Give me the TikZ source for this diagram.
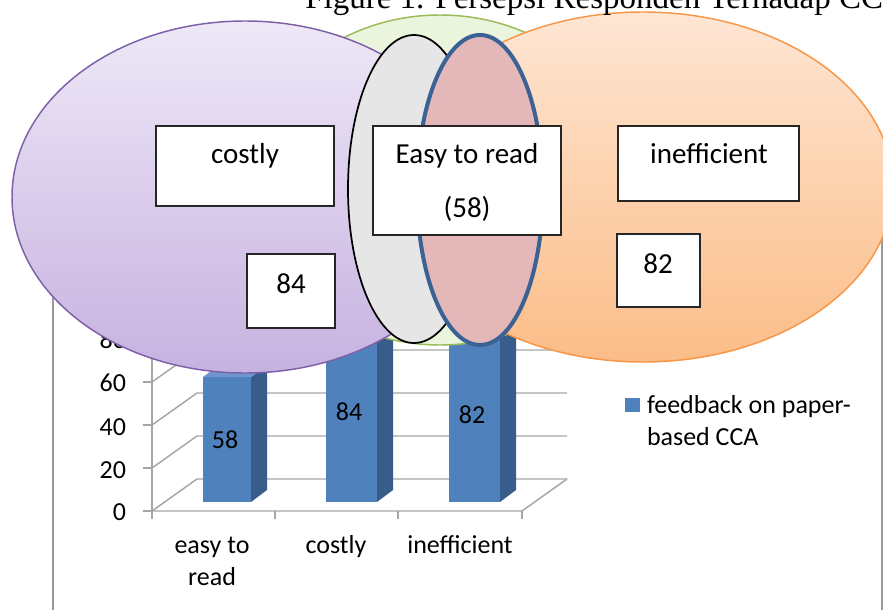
\documentclass[tikz,border=0pt]{standalone}
\usepackage{fontspec}
\setmainfont{Carlito}
\newfontfamily\titlefont{Liberation Serif}
\definecolor{barfront}{HTML}{4F81BD}
\definecolor{barside}{HTML}{385D8A}
\definecolor{bartop}{HTML}{6F97CC}
\definecolor{gridgray}{HTML}{A6A6A6}
\definecolor{framegray}{HTML}{9A9A9A}
\definecolor{greenfill}{HTML}{EBF5DE}
\definecolor{greenline}{HTML}{9BBB59}
\definecolor{purptop}{HTML}{EEE8F7}
\definecolor{purpbot}{HTML}{C6B2E0}
\definecolor{purpline}{HTML}{7E60A8}
\definecolor{orgtop}{HTML}{FEE6D4}
\definecolor{orgbot}{HTML}{FBBD88}
\definecolor{orgline}{HTML}{F79646}
\definecolor{stonefill}{HTML}{E6E6E6}
\definecolor{rosefill}{HTML}{E4B7B8}
\definecolor{roseline}{HTML}{3B6294}
\newcommand\chartsize{\fontsize{19.5}{23}\selectfont}
\newcommand\boxsize{\fontsize{21.75}{26}\selectfont}
\begin{document}
\begin{tikzpicture}[x=0.75pt,y=-0.75pt,
  gridline/.style={draw=gridgray, line width=1.1pt},
  framestroke/.style={draw=framegray, line width=1.2pt},
  lbl/.style={inner sep=0pt, outer sep=0pt, font=\chartsize},
  boxtxt/.style={inner sep=0pt, outer sep=0pt, font=\boxsize, anchor=base},
  labelbox/.style={draw=black!85, line width=0.8pt, fill=white, inner sep=0pt, outer sep=0pt},
  barfrontface/.style={fill=barfront},
  barsideface/.style={fill=barside},
  bartopface/.style={fill=bartop}
]
\useasboundingbox (0,0) rectangle (883,610);
\clip (0,0) rectangle (883,610);

% chart frame
\coordinate (fTL) at (53,170);
\coordinate (fTR) at (882,170);
\coordinate (fBL) at (53,620);
\coordinate (fBR) at (882,620);
\draw[framestroke] (fBL) -- (fTL) -- (fTR) -- (fBR);

% back wall gridlines and left-wall diagonals
\foreach \v in {0,20,40,60,80,100}{
  \pgfmathsetmacro\yf{511-2.15*\v}
  \pgfmathsetmacro\yb{479-2.15*\v}
  \draw[gridline] (152,\yf) -- (197,\yb) -- (567,\yb);
  \draw[gridline] (143,\yf) -- (152,\yf);
}
% value axis
\draw[gridline] (152,511) -- (152,296);
% floor
\coordinate (flA) at (152,511);
\coordinate (flB) at (522,511);
\coordinate (flC) at (567,479);
\draw[gridline] (flA) -- (flB) -- (flC);
\foreach \x in {152,275,398,522}{
  \draw[gridline] (\x,511) -- (\x,519);
}

% value labels
\node[lbl, anchor=base east] (y0) at (126,520) {0};
\node[lbl, anchor=base east] (y20) at (126,478) {20};
\node[lbl, anchor=base east] (y40) at (126,435) {40};
\node[lbl, anchor=base east] (y60) at (126,391) {60};
\node[lbl, anchor=base east] (y80) at (126,348) {80};

% category labels
\node[lbl, anchor=base] (c1a) at (212,553) {easy to};
\node[lbl, anchor=base] (c1b) at (212,585) {read};
\node[lbl, anchor=base] (c2) at (336,553) {costly};
\node[lbl, anchor=base] (c3) at (460,553) {inefficient};

% bars
\foreach \xl/\xr/\yt in {203/251/377, 326/377/321, 449/500/326}{
  \fill[barfrontface] (\xl,\yt) rectangle (\xr,502);
  \fill[barsideface] (\xr,502) -- (\xr+16,490) -- (\xr+16,\yt-12) -- (\xr,\yt) -- cycle;
  \fill[bartopface] (\xl,\yt) -- (\xl+16,\yt-12) -- (\xr+16,\yt-12) -- (\xr,\yt) -- cycle;
}
\node[lbl, anchor=base] (v1) at (225,448) {58};
\node[lbl, anchor=base] (v2) at (349,420) {84};
\node[lbl, anchor=base] (v3) at (472,423) {82};

% legend
\node[fill=barfront, minimum width=11.25pt, minimum height=10.5pt, inner sep=0pt] (key) at (632.5,405) {};
\node[lbl, anchor=base west] (keyA) at (647,413) {feedback on paper-};
\node[lbl, anchor=base west] (keyB) at (647,445) {based CCA};

% overlapping ellipses
\draw[fill=greenfill, draw=greenline, line width=1.1pt] (440,180) ellipse [x radius=190, y radius=165];
\draw[top color=purptop, bottom color=purpbot, draw=purpline, line width=1.1pt] (245,197) ellipse [x radius=233, y radius=176];
\draw[top color=orgtop, bottom color=orgbot, draw=orgline, line width=1.1pt] (643,187) ellipse [x radius=250, y radius=175];
\draw[fill=stonefill, draw=black, line width=1.3pt] (414,189) ellipse [x radius=66, y radius=154];
\draw[fill=rosefill, draw=roseline, line width=3pt] (480,190) ellipse [x radius=63, y radius=155];

% label boxes
\node[labelbox, minimum width=133.5pt, minimum height=60pt] (costlyBox) at (245,166) {};
\node[boxtxt] (costlyTxt) at (245,164) {costly};
\node[labelbox, minimum width=66pt, minimum height=55.5pt] (costlyNum) at (291,291) {};
\node[boxtxt] (costlyVal) at (291,293) {84};
\node[labelbox, minimum width=141pt, minimum height=81.75pt] (easyBox) at (467,180.5) {};
\node[boxtxt] (easyTxt) at (467,164) {Easy to read};
\node[boxtxt] (easyVal) at (467,218) {(58)};
\node[labelbox, minimum width=135.75pt, minimum height=56.25pt] (ineffBox) at (708.5,163.5) {};
\node[boxtxt] (ineffTxt) at (709,164) {inefficient};
\node[labelbox, minimum width=62.25pt, minimum height=54.75pt] (ineffNum) at (658.5,270.5) {};
\node[boxtxt] (ineffVal) at (658,273) {82};

% caption
\node[inner sep=0pt, anchor=base west, font=\titlefont\fontsize{24.75}{29}\selectfont] (caption) at (305,9) {Figure 1. Persepsi Responden Terhadap CCA};
\end{tikzpicture}
\end{document}
